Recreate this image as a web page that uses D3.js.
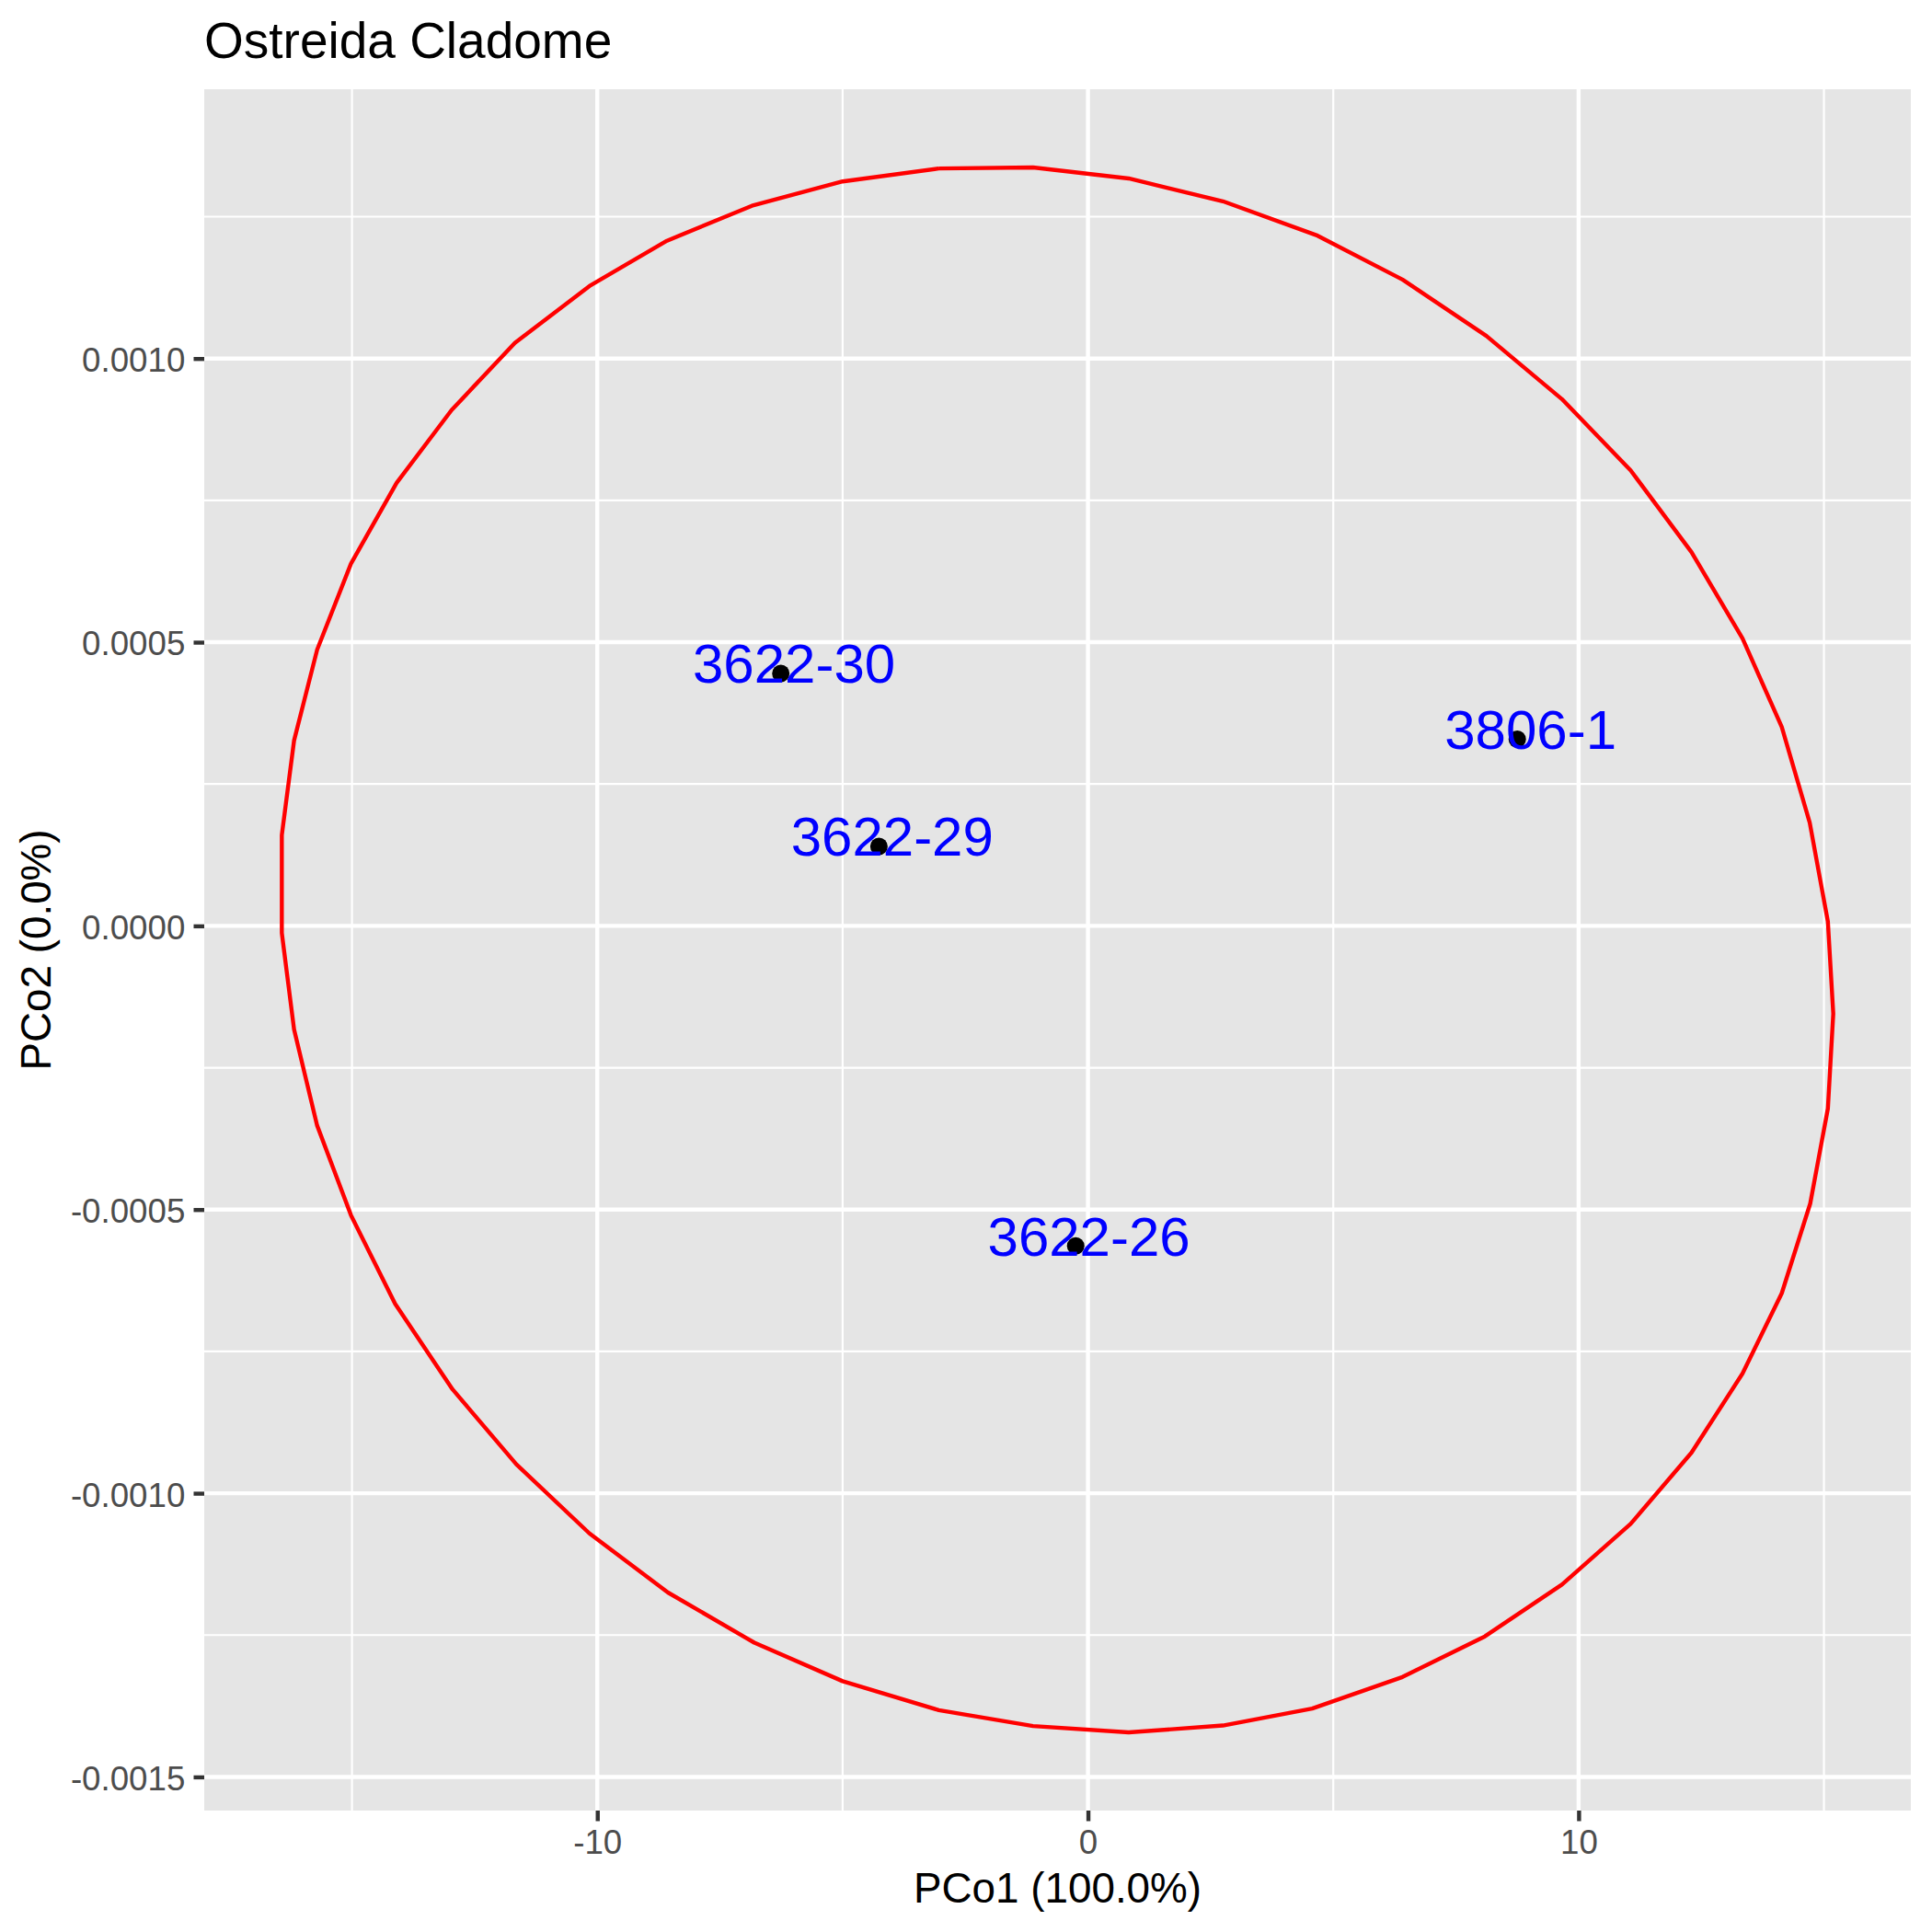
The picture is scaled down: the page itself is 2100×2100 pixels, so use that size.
<!DOCTYPE html>
<html>
<head>
<meta charset="utf-8">
<script src="https://cdn.jsdelivr.net/npm/d3@7"></script>
<style>
  body { margin: 0; background: #fff; }
  svg { display: block; font-family: "Liberation Sans", Arial, Helvetica, sans-serif; }
</style>
</head>
<body>
<div id="chart"></div>
<script>
// Ellipse outline (PCo1, PCo2), clockwise from the top
const ellipseX = [
  -3.04, -1.12, 0.83, 2.75, 4.68, 6.41, 8.12, 9.66, 11.06, 12.30, 13.34, 14.14, 14.71,
  15.08, 15.19, 15.08, 14.72, 14.14, 13.34, 12.30, 11.06, 9.66, 8.09, 6.41, 4.57, 2.75,
  0.83, -1.12, -3.04, -5.00, -6.80, -8.56, -10.16, -11.65, -12.95, -14.12, -15.02, -15.71,
  -16.18, -16.43, -16.43, -16.18, -15.71, -15.02, -14.09, -12.97, -11.68, -10.16, -8.58,
  -6.85, -5.00, -3.04
];
const ellipseY = [
  0.0013349, 0.0013367, 0.0013174, 0.0012771, 0.0012165, 0.0011392, 0.0010399, 0.0009284,
  0.0008028, 0.0006588, 0.0005068, 0.0003506, 0.0001820, 0.0000076, -0.0001547, -0.0003221,
  -0.0004895, -0.0006476, -0.0007890, -0.0009286, -0.0010541, -0.0011611, -0.0012523,
  -0.0013239, -0.0013796, -0.0014094, -0.0014214, -0.0014104, -0.0013824, -0.0013313,
  -0.0012634, -0.0011750, -0.0010708, -0.0009490, -0.0008169, -0.0006662, -0.0005100,
  -0.0003519, -0.0001826, -0.0000125, 0.0001599, 0.0003268, 0.0004867, 0.0006385,
  0.0007808, 0.0009091, 0.0010275, 0.0011277, 0.0012076, 0.0012691, 0.0013121, 0.0013349
];

// Samples
const sampleNames = ['3622-30', '3622-29', '3806-1', '3622-26'];
const sampleX = [-6.26, -4.26, 8.75, -0.25];
const sampleY = [0.000445, 0.000140, 0.000329, -0.000564];

// Axis breaks
const xMajor = [-10, 0, 10];
const xMinor = [-15, -5, 5, 15];
const yMajor = [-0.0015, -0.0010, -0.0005, 0, 0.0005, 0.0010];
const yMinor = [-0.00125, -0.00075, -0.00025, 0.00025, 0.00075, 0.00125];

const TITLE = 'Ostreida Cladome';
const X_TITLE = 'PCo1 (100.0%)';
const Y_TITLE = 'PCo2 (0.0%)';

const WIDTH = 2100;
const HEIGHT = 2100;
const PANEL = { left: 222, right: 2077, top: 97, bottom: 1968 };
const NUDGE_X = 0.27;
const NUDGE_Y = 0.000018;

const svg = d3.select('#chart')
  .append('svg')
  .attr('width', WIDTH)
  .attr('height', HEIGHT);

svg.append('rect')
  .attr('width', WIDTH).attr('height', HEIGHT)
  .attr('fill', '#fff');

// ggplot-style 5% expansion of the data range
function expand(ext) {
  const pad = (ext[1] - ext[0]) * 0.05;
  return [ext[0] - pad, ext[1] + pad];
}
const xExt = d3.extent(ellipseX.concat(sampleX));
const yExt = d3.extent(ellipseY.concat(sampleY));

const x = d3.scaleLinear()
  .domain(expand(xExt))
  .range([PANEL.left, PANEL.right]);
const y = d3.scaleLinear()
  .domain(expand(yExt))
  .range([PANEL.bottom, PANEL.top]);

const minusFix = s => s.replace('\u2212', '-');

// panel background
svg.append('rect')
  .attr('x', PANEL.left).attr('y', PANEL.top)
  .attr('width', PANEL.right - PANEL.left)
  .attr('height', PANEL.bottom - PANEL.top)
  .attr('fill', '#E5E5E5');

const grid = svg.append('g');
grid.selectAll('.xminor').data(xMinor).join('line')
  .attr('x1', d => x(d)).attr('x2', d => x(d))
  .attr('y1', PANEL.top).attr('y2', PANEL.bottom)
  .attr('stroke', '#fff').attr('stroke-width', 2.2);
grid.selectAll('.yminor').data(yMinor).join('line')
  .attr('y1', d => y(d)).attr('y2', d => y(d))
  .attr('x1', PANEL.left).attr('x2', PANEL.right)
  .attr('stroke', '#fff').attr('stroke-width', 2.2);
grid.selectAll('.xmajor').data(xMajor).join('line')
  .attr('x1', d => x(d)).attr('x2', d => x(d))
  .attr('y1', PANEL.top).attr('y2', PANEL.bottom)
  .attr('stroke', '#fff').attr('stroke-width', 4.4);
grid.selectAll('.ymajor').data(yMajor).join('line')
  .attr('y1', d => y(d)).attr('y2', d => y(d))
  .attr('x1', PANEL.left).attr('x2', PANEL.right)
  .attr('stroke', '#fff').attr('stroke-width', 4.4);

// ellipse
const ellipse = ellipseX.map((v, i) => [v, ellipseY[i]]);
svg.append('path')
  .datum(ellipse)
  .attr('fill', 'none')
  .attr('stroke', '#FF0000')
  .attr('stroke-width', 4.4)
  .attr('stroke-linejoin', 'round')
  .attr('d', d3.line().x(d => x(d[0])).y(d => y(d[1])));

// points
const samples = sampleNames.map((n, i) => ({ name: n, x: sampleX[i], y: sampleY[i] }));
svg.selectAll('.pt').data(samples).join('circle')
  .attr('cx', d => x(d.x))
  .attr('cy', d => y(d.y))
  .attr('r', 9.5)
  .attr('fill', '#000');

// labels
const LABEL_SIZE = 60;
svg.selectAll('.lbl').data(samples).join('text')
  .attr('x', d => x(d.x + NUDGE_X))
  .attr('y', d => y(d.y + NUDGE_Y) + LABEL_SIZE * 0.358)
  .attr('text-anchor', 'middle')
  .style('font-size', LABEL_SIZE + 'px')
  .style('fill', '#0000FF')
  .text(d => d.name);

// axes
const xAxis = svg.append('g')
  .attr('transform', `translate(0,${PANEL.bottom})`)
  .call(d3.axisBottom(x).tickValues(xMajor).tickSize(11.5).tickPadding(9.2)
    .tickFormat(d => minusFix(d3.format('d')(d))));
const yAxis = svg.append('g')
  .attr('transform', `translate(${PANEL.left},0)`)
  .call(d3.axisLeft(y).tickValues(yMajor).tickSize(11.5).tickPadding(9.2)
    .tickFormat(d => minusFix(d3.format('.4f')(d))));

[xAxis, yAxis].forEach(ax => {
  ax.select('.domain').remove();
  ax.selectAll('.tick line').attr('stroke', '#333333').attr('stroke-width', 4.4);
  ax.selectAll('.tick text')
    .attr('fill', '#4D4D4D')
    .style('font-size', '36.7px')
    .style('font-family', '"Liberation Sans", Arial, sans-serif');
});
yAxis.selectAll('.tick text').attr('dy', '0.38em');

// titles
svg.append('text')
  .attr('x', PANEL.left)
  .attr('y', 63)
  .style('font-size', '55px')
  .style('fill', '#000')
  .text(TITLE);

svg.append('text')
  .attr('x', (PANEL.left + PANEL.right) / 2)
  .attr('y', 2068)
  .attr('text-anchor', 'middle')
  .style('font-size', '45.8px')
  .style('fill', '#000')
  .text(X_TITLE);

svg.append('text')
  .attr('transform', `translate(55,${(PANEL.top + PANEL.bottom) / 2}) rotate(-90)`)
  .attr('text-anchor', 'middle')
  .style('font-size', '45.8px')
  .style('fill', '#000')
  .text(Y_TITLE);
</script>
</body>
</html>
